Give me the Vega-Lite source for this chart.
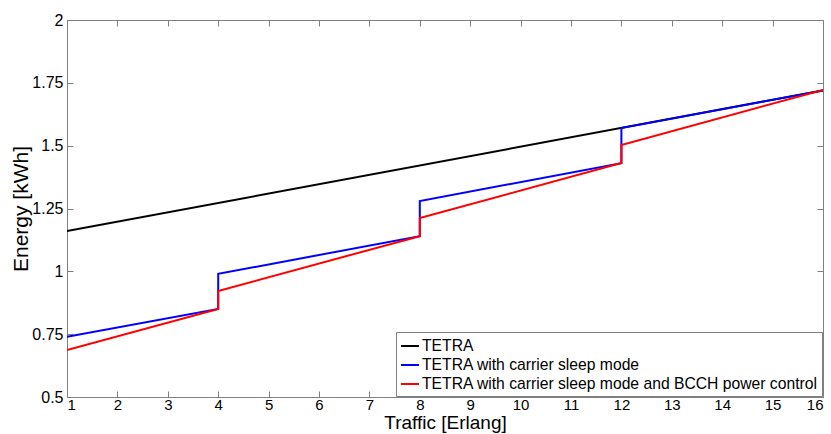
{
  "$schema": "https://vega.github.io/schema/vega-lite/v6.json",
  "width": 756,
  "height": 377,
  "autosize": "none",
  "padding": {"left": 67, "top": 20, "right": 8, "bottom": 37},
  "background": "white",
  "config": {
    "font": "Liberation Sans",
    "view": {"stroke": "#808080", "strokeWidth": 1},
    "axis": {"grid": false, "domainColor": "#808080", "tickColor": "#808080", "labelColor": "#000", "titleColor": "#000", "labelFont": "Liberation Sans", "titleFont": "Liberation Sans", "titleFontWeight": "normal", "labelFontSize": 16, "titleFontSize": 21}
  },
  "data": {
    "values": [
      {"series": "TETRA", "i": 1, "x": 1, "y": 1.16},
      {"series": "TETRA", "i": 2, "x": 16, "y": 1.72},
      {"series": "TETRA with carrier sleep mode", "i": 1, "x": 1, "y": 0.74},
      {"series": "TETRA with carrier sleep mode", "i": 2, "x": 4, "y": 0.85},
      {"series": "TETRA with carrier sleep mode", "i": 3, "x": 4, "y": 0.99},
      {"series": "TETRA with carrier sleep mode", "i": 4, "x": 8, "y": 1.14},
      {"series": "TETRA with carrier sleep mode", "i": 5, "x": 8, "y": 1.28},
      {"series": "TETRA with carrier sleep mode", "i": 6, "x": 12, "y": 1.43},
      {"series": "TETRA with carrier sleep mode", "i": 7, "x": 12, "y": 1.57},
      {"series": "TETRA with carrier sleep mode", "i": 8, "x": 16, "y": 1.72},
      {"series": "TETRA with carrier sleep mode and BCCH power control", "i": 1, "x": 1, "y": 0.687},
      {"series": "TETRA with carrier sleep mode and BCCH power control", "i": 2, "x": 4, "y": 0.85},
      {"series": "TETRA with carrier sleep mode and BCCH power control", "i": 3, "x": 4, "y": 0.922},
      {"series": "TETRA with carrier sleep mode and BCCH power control", "i": 4, "x": 8, "y": 1.14},
      {"series": "TETRA with carrier sleep mode and BCCH power control", "i": 5, "x": 8, "y": 1.212},
      {"series": "TETRA with carrier sleep mode and BCCH power control", "i": 6, "x": 12, "y": 1.431},
      {"series": "TETRA with carrier sleep mode and BCCH power control", "i": 7, "x": 12, "y": 1.503},
      {"series": "TETRA with carrier sleep mode and BCCH power control", "i": 8, "x": 16, "y": 1.722}
    ]
  },
  "resolve": {"axis": {"x": "independent", "y": "independent"}},
  "layer": [
    {
      "mark": {"type": "line", "opacity": 0},
      "encoding": {
        "x": {"field": "x", "type": "quantitative", "scale": {"domain": [1, 16], "nice": false, "zero": false}, "axis": {"orient": "top", "title": null, "labels": false, "domain": false, "values": [1,2,3,4,5,6,7,8,9,10,11,12,13,14,15,16], "tickSize": -6}},
        "y": {"field": "y", "type": "quantitative", "scale": {"domain": [0.5, 2], "nice": false, "zero": false}, "axis": {"orient": "right", "title": null, "labels": false, "domain": false, "values": [0.5,0.75,1,1.25,1.5,1.75,2], "tickSize": -6}}
      }
    },
    {
      "mark": {"type": "line", "strokeWidth": 2, "clip": true},
      "encoding": {
        "x": {"field": "x", "type": "quantitative", "scale": {"domain": [1, 16], "nice": false, "zero": false},
          "axis": {"orient": "bottom", "title": "Traffic [Erlang]", "values": [1,2,3,4,5,6,7,8,9,10,11,12,13,14,15,16], "format": "d", "tickSize": -6, "labelPadding": 6, "labelFontSize": 15, "titleFontSize": 19, "titlePadding": 1}},
        "y": {"field": "y", "type": "quantitative", "scale": {"domain": [0.5, 2], "nice": false, "zero": false},
          "axis": {"orient": "left", "title": "Energy [kWh]", "values": [0.5,0.75,1,1.25,1.5,1.75,2], "format": ".2~f", "tickSize": -6, "labelPadding": 10, "titlePadding": 0}},
        "color": {"field": "series", "type": "nominal",
          "scale": {"domain": ["TETRA", "TETRA with carrier sleep mode", "TETRA with carrier sleep mode and BCCH power control"], "range": ["#000000", "#0000ff", "#ff0000"]},
          "legend": {"title": null, "orient": "bottom-right", "offset": 1, "symbolType": "stroke", "symbolSize": 324, "symbolStrokeWidth": 2, "labelFontSize": 15.7, "labelFont": "Liberation Sans", "labelColor": "#000", "fillColor": "white", "strokeColor": "#808080", "padding": 4, "rowPadding": 1, "labelLimit": 500, "labelOffset": 2}},
        "order": {"field": "i", "type": "quantitative"}
      }
    }
  ]
}
